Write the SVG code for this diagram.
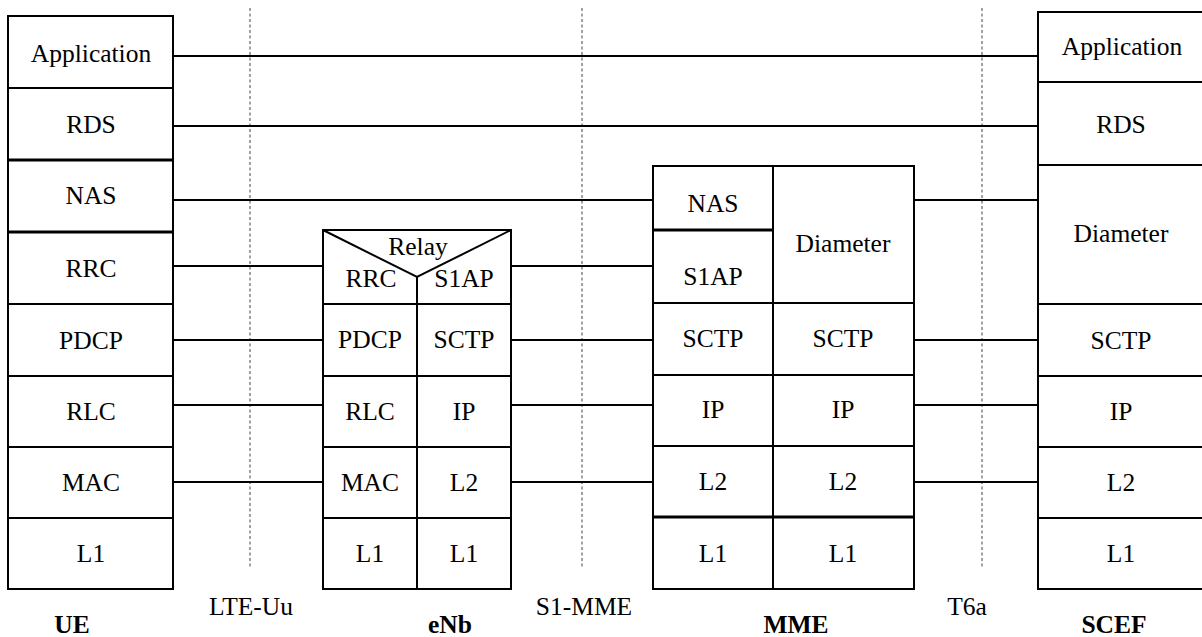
<svg xmlns="http://www.w3.org/2000/svg" width="1202" height="637" viewBox="0 0 1202 637">
<style>
.b{fill:#fff;stroke:#000;stroke-width:2}
.ln{stroke:#000;stroke-width:2;fill:none}
.tk{stroke:#000;stroke-width:3;fill:none}
.d{stroke:#8a8a8a;stroke-width:1.6;stroke-dasharray:3,2.5;fill:none}
text{font-family:"Liberation Serif","Times New Roman",serif;font-size:25.5px;fill:#000;text-anchor:middle}
.lb{font-weight:bold}
</style>
<rect width="1202" height="637" fill="#fff"/>
<g id="reference-points">
<line class="d" x1="250" y1="8" x2="250" y2="567"/>
<line class="d" x1="582" y1="8" x2="582" y2="567"/>
<line class="d" x1="982" y1="8" x2="982" y2="567"/>
</g>
<g id="connectors">
<line class="ln" x1="173" y1="56" x2="1038" y2="56"/>
<line class="ln" x1="173" y1="126" x2="1038" y2="126"/>
<line class="ln" x1="173" y1="200" x2="653" y2="200"/>
<line class="ln" x1="173" y1="266" x2="323" y2="266"/>
<line class="ln" x1="173" y1="340" x2="323" y2="340"/>
<line class="ln" x1="173" y1="405" x2="323" y2="405"/>
<line class="ln" x1="173" y1="482" x2="323" y2="482"/>
<line class="ln" x1="511" y1="266" x2="653" y2="266"/>
<line class="ln" x1="511" y1="340" x2="653" y2="340"/>
<line class="ln" x1="511" y1="405" x2="653" y2="405"/>
<line class="ln" x1="511" y1="482" x2="653" y2="482"/>
<line class="ln" x1="914" y1="200" x2="1038" y2="200"/>
<line class="ln" x1="914" y1="340" x2="1038" y2="340"/>
<line class="ln" x1="914" y1="405" x2="1038" y2="405"/>
<line class="ln" x1="914" y1="482" x2="1038" y2="482"/>
</g>
<g id="UE">
<rect class="b" x="8" y="16" width="165" height="573"/>
<line class="ln" x1="8" y1="88" x2="173" y2="88"/>
<line class="tk" x1="8" y1="160" x2="173" y2="160"/>
<line class="tk" x1="8" y1="232" x2="173" y2="232"/>
<line class="ln" x1="8" y1="304" x2="173" y2="304"/>
<line class="ln" x1="8" y1="376" x2="173" y2="376"/>
<line class="ln" x1="8" y1="447" x2="173" y2="447"/>
<line class="ln" x1="8" y1="518" x2="173" y2="518"/>
<text x="91" y="62">Application</text>
<text x="91" y="133">RDS</text>
<text x="91" y="204">NAS</text>
<text x="91" y="277">RRC</text>
<text x="91" y="349">PDCP</text>
<text x="91" y="420">RLC</text>
<text x="91" y="491">MAC</text>
<text x="91" y="562">L1</text>
<text class="lb" x="72" y="633">UE</text>
</g>
<g id="eNb">
<rect class="b" x="323" y="230" width="188" height="359"/>
<polyline class="ln" points="323,230 417,277 511,230"/>
<line class="ln" x1="417" y1="277" x2="417" y2="589"/>
<line class="ln" x1="323" y1="304" x2="511" y2="304"/>
<line class="ln" x1="323" y1="376" x2="511" y2="376"/>
<line class="ln" x1="323" y1="447" x2="511" y2="447"/>
<line class="ln" x1="323" y1="518" x2="511" y2="518"/>
<text x="418" y="255">Relay</text>
<text x="371" y="287">RRC</text>
<text x="464" y="287">S1AP</text>
<text x="370" y="348">PDCP</text>
<text x="464" y="348">SCTP</text>
<text x="370" y="420">RLC</text>
<text x="464" y="420">IP</text>
<text x="370" y="491">MAC</text>
<text x="464" y="491">L2</text>
<text x="370" y="562">L1</text>
<text x="464" y="562">L1</text>
<text class="lb" x="450" y="633">eNb</text>
</g>
<g id="MME">
<rect class="b" x="653" y="166" width="261" height="423"/>
<line class="ln" x1="773" y1="166" x2="773" y2="589"/>
<line class="tk" x1="653" y1="230" x2="773" y2="230"/>
<line class="ln" x1="653" y1="303" x2="914" y2="303"/>
<line class="ln" x1="653" y1="375" x2="914" y2="375"/>
<line class="ln" x1="653" y1="446" x2="914" y2="446"/>
<line class="tk" x1="653" y1="517" x2="914" y2="517"/>
<text x="713" y="212">NAS</text>
<text x="713" y="285">S1AP</text>
<text x="843" y="252">Diameter</text>
<text x="713" y="347">SCTP</text>
<text x="843" y="347">SCTP</text>
<text x="713" y="418">IP</text>
<text x="843" y="418">IP</text>
<text x="713" y="490">L2</text>
<text x="843" y="490">L2</text>
<text x="713" y="562">L1</text>
<text x="843" y="562">L1</text>
<text class="lb" x="796" y="633">MME</text>
</g>
<g id="SCEF">
<rect class="b" x="1038" y="12" width="168" height="577"/>
<line class="ln" x1="1038" y1="82" x2="1206" y2="82"/>
<line class="ln" x1="1038" y1="165" x2="1206" y2="165"/>
<line class="ln" x1="1038" y1="304" x2="1206" y2="304"/>
<line class="ln" x1="1038" y1="376" x2="1206" y2="376"/>
<line class="ln" x1="1038" y1="447" x2="1206" y2="447"/>
<line class="ln" x1="1038" y1="518" x2="1206" y2="518"/>
<text x="1122" y="55">Application</text>
<text x="1121" y="133">RDS</text>
<text x="1121" y="242">Diameter</text>
<text x="1121" y="349">SCTP</text>
<text x="1121" y="420">IP</text>
<text x="1121" y="491">L2</text>
<text x="1121" y="562">L1</text>
<text class="lb" x="1114" y="633">SCEF</text>
</g>
<g id="interface-labels">
<text x="251" y="615">LTE-Uu</text>
<text x="584" y="615">S1-MME</text>
<text x="967" y="615">T6a</text>
</g>
</svg>
